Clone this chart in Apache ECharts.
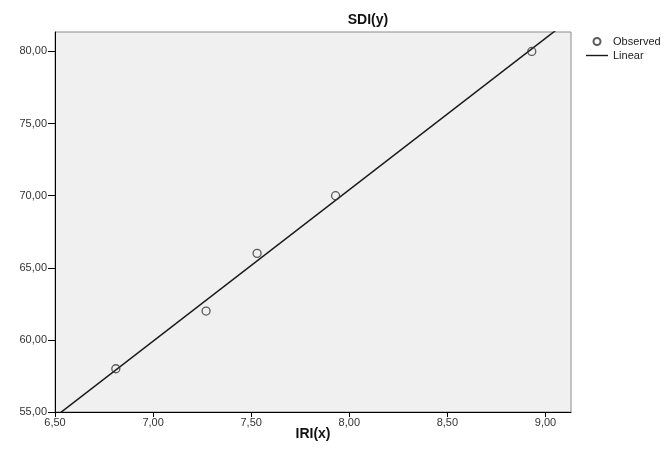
<!DOCTYPE html>
<html>
<head>
<meta charset="utf-8">
<script src="https://cdn.jsdelivr.net/npm/echarts@6/dist/echarts.min.js"></script>
<style>
html,body{margin:0;padding:0;background:#fff;}
#chart{width:669px;height:456px;}
</style>
</head>
<body>
<div id="chart"></div>
<script>
// Observed data (IRI(x), SDI(y))
const iriX = [6.81, 7.27, 7.53, 7.93, 8.93];
const sdiY = [58, 62, 66, 70, 80];
// Linear fit line endpoints
const fitX = [6.50, 9.13];
const fitY = [54.66, 82.28];
// Axis settings / tick labels
const xTicks = ['6,50', '7,00', '7,50', '8,00', '8,50', '9,00'];
const yTicks = ['55,00', '60,00', '65,00', '70,00', '75,00', '80,00'];
const seriesNames = ['Observed', 'Linear'];

const fmt = v => v.toFixed(2).replace('.', ',');
const font = 'Liberation Sans, Arial, sans-serif';

const chart = echarts.init(document.getElementById('chart'), null, {renderer: 'canvas'});
chart.setOption({
  animation: false,
  backgroundColor: '#ffffff',
  textStyle: {fontFamily: font},
  title: {
    text: 'SDI(y)',
    left: 363, top: 8,
    textAlign: 'center',
    textStyle: {fontSize: 14, fontWeight: 'bold', color: '#111', fontFamily: font}
  },
  legend: {
    orient: 'vertical',
    left: 581, top: 31,
    itemWidth: 22, itemHeight: 7,
    itemGap: 3,
    textStyle: {fontSize: 11, color: '#222', fontFamily: font},
    data: [
      {name: seriesNames[0], icon: 'circle'},
      {name: seriesNames[1], icon: 'path://M0,0L22,0L22,1.4L0,1.4Z'}
    ]
  },
  grid: {
    left: 55, right: 98, top: 32, bottom: 44,
    show: true,
    backgroundColor: '#f0f0f0',
    borderColor: '#8c8c8c',
    borderWidth: 1
  },
  xAxis: {
    type: 'value',
    min: 6.5, max: 9.13, interval: 0.5,
    name: 'IRI(x)',
    nameLocation: 'middle',
    nameGap: 15,
    nameMoveOverlap: false,
    nameTextStyle: {fontSize: 14, fontWeight: 'bold', color: '#111', fontFamily: font},
    axisLine: {show: true, onZero: false, lineStyle: {color: '#000', width: 1}},
    axisTick: {show: true, length: 5, lineStyle: {color: '#000'}},
    axisLabel: {
      fontSize: 11, color: '#333', margin: 5, showMaxLabel: false,
      formatter: v => { const i = Math.round((v - 6.5) / 0.5); return xTicks[i] !== undefined ? xTicks[i] : fmt(v); }
    },
    splitLine: {show: false}
  },
  yAxis: {
    type: 'value',
    min: 55, max: 81.35, interval: 5,
    axisLine: {show: true, onZero: false, lineStyle: {color: '#000', width: 1}},
    axisTick: {show: true, length: 7, lineStyle: {color: '#000'}},
    axisLabel: {
      fontSize: 11, color: '#333', margin: 8, showMaxLabel: false,
      formatter: v => { const i = Math.round((v - 55) / 5); return yTicks[i] !== undefined ? yTicks[i] : fmt(v); }
    },
    splitLine: {show: false}
  },
  series: [
    {
      name: seriesNames[0],
      type: 'scatter',
      symbol: 'circle',
      symbolSize: 8,
      itemStyle: {color: 'rgba(240,240,240,0)', borderColor: '#333', borderWidth: 1.3},
      data: iriX.map((x, i) => [x, sdiY[i]]),
      z: 3
    },
    {
      name: seriesNames[1],
      type: 'line',
      symbol: 'none',
      clip: true,
      lineStyle: {color: '#1a1a1a', width: 1.5},
      itemStyle: {color: '#1a1a1a'},
      data: fitX.map((x, i) => [x, fitY[i]]),
      z: 2
    }
  ]
});
</script>
</body>
</html>
